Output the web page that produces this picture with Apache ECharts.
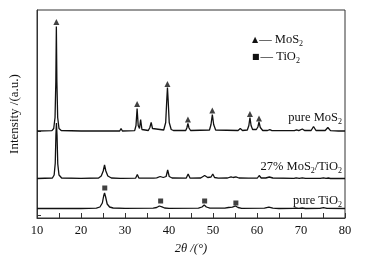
<!DOCTYPE html>
<html>
<head>
<meta charset="utf-8">
<script src="https://cdn.jsdelivr.net/npm/echarts@6/dist/echarts.min.js"></script>
<style>
html,body{margin:0;padding:0;background:#fff;}
#chart{width:369px;height:267px;}
</style>
</head>
<body>
<div id="chart"></div>
<script>
// 2θ / relative intensity (a.u.)
const mos2 = [[10,0.5],[13.4,0.8],[13.8,3],[14.1,14],[14.28,50],[14.4,105],[14.52,50],[14.7,14],[15.0,3],[15.5,1],[20,0.5],[28.8,0.5],[29.1,3],[29.4,0.5],[32.2,0.8],[32.5,6],[32.75,23],[33.0,6],[33.3,3],[33.55,12],[33.85,2],[35.3,1],[35.65,4],[35.95,9],[36.25,3],[36.7,1],[38.8,1.5],[39.25,9],[39.5,32],[39.65,44],[39.8,32],[40.05,9],[40.5,2],[41,1],[43.8,1],[44.05,3.5],[44.3,8],[44.55,3.5],[44.9,1],[49.2,1.5],[49.55,7],[49.85,17],[50.15,7],[50.6,1.5],[51,1],[55.7,1],[56.2,3],[56.7,1],[57.8,1.5],[58.15,6],[58.4,14],[58.65,6],[59,2],[59.85,2],[60.2,4.5],[60.45,9.5],[60.75,4],[61.3,1],[62.4,1],[62.9,1.8],[63.4,0.8],[68.5,0.8],[69,1.6],[69.5,0.8],[69.8,1],[70.3,2.5],[70.8,1],[72.3,1],[72.85,5],[73.4,1],[75.5,1],[76.1,4],[76.7,0.8],[77.7,0.6],[78.1,1],[78.5,0.5],[80,0.5]];
const comp = [[10,0.5],[13.5,1],[13.9,4],[14.15,16],[14.3,44],[14.42,56],[14.55,44],[14.72,15],[15.0,4],[15.6,1],[20,0.6],[24,1],[24.6,3],[25.05,8],[25.35,14],[25.65,8],[26.1,3],[26.9,1],[28.9,0.6],[29.15,1.8],[29.4,0.6],[32.4,0.8],[32.8,4.5],[33.15,1],[33.6,2],[33.95,0.8],[35.7,0.8],[36.1,1.5],[36.5,0.8],[37.2,1.2],[38,2.5],[38.7,1.5],[39.35,2.5],[39.7,9],[40.05,2.5],[40.7,1],[43.9,0.8],[44.35,5],[44.8,0.8],[47.2,1],[48.1,3.5],[48.8,1.5],[49.55,2],[49.95,5],[50.35,1.5],[51.2,0.8],[53.3,1],[54.1,2.2],[54.6,1.5],[55.2,2.2],[55.9,1],[58.1,0.8],[58.45,1.8],[58.8,0.8],[60.1,1],[60.5,3.5],[60.95,1],[62,1],[62.8,2],[63.6,1],[68.4,0.6],[68.9,1.2],[69.6,0.7],[70.3,1.2],[71,0.6],[74.4,0.6],[75.1,1.2],[75.7,0.6],[76.2,1],[76.7,0.5],[80,0.5]];
const tio2 = [[10,0.5],[20,0.5],[23.5,0.8],[24.3,2],[24.85,6],[25.15,13],[25.35,16],[25.6,12],[25.95,5],[26.5,2],[27.3,1],[30,0.6],[36.4,0.8],[37.2,1.5],[37.8,3],[38.4,2.2],[39,1],[40,0.6],[46.7,0.8],[47.5,2],[48.0,4],[48.5,2],[49.3,0.8],[52.7,0.8],[53.5,1.5],[53.9,2.5],[54.4,1.8],[55.1,3],[55.7,1.5],[56.5,0.7],[61.7,0.8],[62.7,1.8],[63.6,0.8],[65,0.5],[68.2,0.6],[68.8,1],[69.5,0.7],[70.3,1],[71,0.5],[74.3,0.6],[75.1,1.3],[75.9,0.6],[80,0.5]];

// phase markers (2θ, plotted height)
const mos2Marks = [[14.4,196],[32.75,114],[39.65,134],[44.3,98.5],[49.85,107.5],[58.4,104],[60.45,99.5]];
const tio2Marks = [[25.4,30],[38.1,17],[48.1,17],[55.2,15]];

const xTicks = [10,20,30,40,50,60,70,80];
const baseTicks = [3,40,87];

const serif = '"Liberation Serif","Times New Roman",serif';
const ink = '#111';

// vertical offsets of the stacked patterns
const shift = {mos2:86.5, comp:39, tio2:9};
const lift = (arr, d) => arr.map(p => [p[0], p[1] + d]);

const chart = echarts.init(document.getElementById('chart'));
const sub = {fontSize:8, fontFamily:serif, color:ink, verticalAlign:'bottom', padding:[8,0,0,0]};
const sym = {fontSize:8, fontFamily:'DejaVu Sans', color:ink, padding:[0,1,0,0]};

chart.setOption({
    animation:false,
    grid:{left:30, right:24, top:10, bottom:49, show:true, borderColor:'#333', borderWidth:1},
    xAxis:{
        type:'value', min:xTicks[0], max:xTicks[xTicks.length-1], interval:10,
        axisLine:{lineStyle:{color:'#333'}},
        axisTick:{inside:true, length:5, lineStyle:{color:'#333'}},
        minorTick:{show:true, splitNumber:2, length:5, lineStyle:{color:'#333'}},
        splitLine:{show:false},
        axisLabel:{fontFamily:serif, fontSize:12.5, color:ink, margin:6},
        name:'2θ /(°)', nameLocation:'middle', nameGap:24,
        nameTextStyle:{fontFamily:serif, fontSize:12.5, fontStyle:'italic', color:ink}
    },
    yAxis:{
        type:'value', min:0, max:208,
        axisLine:{show:true, lineStyle:{color:'#333'}},
        axisTick:{show:true, inside:true, length:4, customValues:baseTicks, lineStyle:{color:'#333'}},
        axisLabel:{show:false},
        splitLine:{show:false},
        name:'Intensity /(a.u.)', nameLocation:'middle', nameGap:16,
        nameTextStyle:{fontFamily:serif, fontSize:13, color:ink}
    },
    series:[
        {type:'line', data:lift(mos2, shift.mos2), showSymbol:false, lineStyle:{color:ink, width:1.3}},
        {type:'line', data:lift(comp, shift.comp), showSymbol:false, lineStyle:{color:ink, width:1.3}},
        {type:'line', data:lift(tio2, shift.tio2), showSymbol:false, lineStyle:{color:ink, width:1.3}},
        {type:'scatter', data:mos2Marks, symbol:'triangle', symbolSize:[6,6], itemStyle:{color:ink}},
        {type:'scatter', data:tio2Marks, symbol:'rect', symbolSize:[5,5], itemStyle:{color:ink}}
    ],
    graphic:[
        {type:'text', left:252, top:33, style:{text:'{t|▲}— MoS{s|2}', font:'12.5px '+serif, fill:ink, rich:{s:sub, t:sym}}},
        {type:'text', left:252, top:50, style:{text:'{t|■}— TiO{s|2}', font:'12.5px '+serif, fill:ink, rich:{s:sub, t:sym}}},
        {type:'text', right:27, top:111, style:{text:'pure MoS{s|2}', font:'12.5px '+serif, fill:ink, rich:{s:sub}}},
        {type:'text', right:27, top:160, style:{text:'27% MoS{s|2}/TiO{s|2}', font:'12.5px '+serif, fill:ink, rich:{s:sub}}},
        {type:'text', right:27, top:194, style:{text:'pure TiO{s|2}', font:'12.5px '+serif, fill:ink, rich:{s:sub}}}
    ]
});
</script>
</body>
</html>
